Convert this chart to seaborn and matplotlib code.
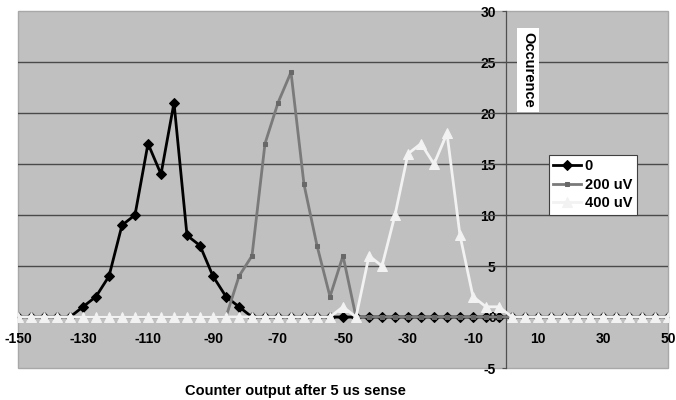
import matplotlib
matplotlib.use("Agg")
import matplotlib.pyplot as plt
import seaborn as sns
import pandas as pd
from matplotlib.patches import Rectangle

# ---- data ----
x_vals = [-150, -146, -142, -138, -134, -130, -126, -122, -118, -114,
          -110, -106, -102, -98, -94, -90, -86, -82, -78, -74,
          -70, -66, -62, -58, -54, -50, -46, -42, -38, -34,
          -30, -26, -22, -18, -14, -10, -6, -2, 2, 6,
          10, 14, 18, 22, 26, 30, 34, 38, 42, 46, 50]

s_0 = [0, 0, 0, 0, 0, 1, 2, 4, 9, 10,
       17, 14, 21, 8, 7, 4, 2, 1, 0, 0,
       0, 0, 0, 0, 0, 0, 0, 0, 0, 0,
       0, 0, 0, 0, 0, 0, 0, 0, 0, 0,
       0, 0, 0, 0, 0, 0, 0, 0, 0, 0, 0]

s_200 = [0, 0, 0, 0, 0, 0, 0, 0, 0, 0,
         0, 0, 0, 0, 0, 0, 0, 4, 6, 17,
         21, 24, 13, 7, 2, 6, 0, 0, 0, 0,
         0, 0, 0, 0, 0, 0, 0, 0, 0, 0,
         0, 0, 0, 0, 0, 0, 0, 0, 0, 0, 0]

s_400 = [0, 0, 0, 0, 0, 0, 0, 0, 0, 0,
         0, 0, 0, 0, 0, 0, 0, 0, 0, 0,
         0, 0, 0, 0, 0, 1, 0, 6, 5, 10,
         16, 17, 15, 18, 8, 2, 1, 1, 0, 0,
         0, 0, 0, 0, 0, 0, 0, 0, 0, 0, 0]

series_names = ["0", "200 uV", "400 uV"]
x_ticks = [-150, -130, -110, -90, -70, -50, -30, -10, 10, 30, 50]
y_ticks = [-5, 0, 5, 10, 15, 20, 25, 30]

df = pd.DataFrame({"x": x_vals, "0": s_0, "200 uV": s_200, "400 uV": s_400})

# ---- style ----
plt.rcParams["font.family"] = ["Liberation Sans", "DejaVu Sans"]
plt.rcParams["font.weight"] = "bold"
FS = 10.5

fig = plt.figure(figsize=(6.76, 4.0), dpi=100)
W, H = 676, 400
ax = fig.add_axes([18 / W, 1 - 368 / H, 650 / W, 357 / H])
ax.set_facecolor("#C0C0C0")

styles = {
    "0": dict(color="black", marker="D", markersize=5.5, markeredgecolor="black",
              markerfacecolor="black", linewidth=2.0, zorder=3),
    "200 uV": dict(color="#7A7A7A", marker="s", markersize=2.8, markeredgecolor="#686868",
                   markerfacecolor="#686868", linewidth=2.0, zorder=4),
    "400 uV": dict(color="#F2F2F2", marker="^", markersize=6.5, markeredgecolor="#F2F2F2",
                   markerfacecolor="#F2F2F2", linewidth=2.0, zorder=5),
}

for name in series_names:
    sns.lineplot(data=df, x="x", y=name, ax=ax, label=name, **styles[name])

ax.set_xlim(-150, 50)
ax.set_ylim(-5, 30)
ax.set_xticks(x_ticks)
ax.set_yticks(y_ticks)
ax.set_xticklabels([str(v) for v in x_ticks], fontsize=FS, fontweight="bold")
ax.set_yticklabels([str(v) for v in y_ticks], fontsize=FS, fontweight="bold")
ax.set_xlabel("")
ax.set_ylabel("")

# axes crossing at zero
ax.spines["left"].set_position(("data", 0))
ax.spines["bottom"].set_position(("data", 0))
ax.spines["left"].set_color("#505050")
ax.spines["left"].set_linewidth(0.9)
ax.spines["bottom"].set_color("#303030")
ax.spines["bottom"].set_linewidth(1.0)
ax.spines["top"].set_visible(False)
ax.spines["right"].set_visible(False)
ax.add_patch(Rectangle((0, 0), 1, 1, transform=ax.transAxes, fill=False,
                       edgecolor="#A8A8A8", linewidth=1.0, clip_on=False, zorder=0.5))

ax.tick_params(axis="y", direction="out", length=3, width=0.8, color="#505050", pad=4)
ax.tick_params(axis="x", direction="out", length=0, pad=11)

# horizontal gridlines
for yv in [5, 10, 15, 20, 25]:
    ax.axhline(yv, color="#4A4A4A", linewidth=1.0, zorder=1)
ax.set_axisbelow(True)

# y-axis title
ax.text(6.9, 24.2, "Occurence", rotation=270, ha="center", va="center",
        fontsize=FS, fontweight="bold", zorder=6,
        bbox=dict(boxstyle="square,pad=0.3", facecolor="white", edgecolor="none"))

# x-axis title
fig.text(295 / W, 1 - 391 / H, "Counter output after 5 us sense", ha="center", va="center",
         fontsize=FS, fontweight="bold")

leg = ax.legend(loc="upper left", bbox_to_anchor=((549 - 18) / 650, (368 - 155) / 357),
                frameon=True, fancybox=False, fontsize=FS, handlelength=1.9,
                borderpad=0.3, labelspacing=0.3, handletextpad=0.25, borderaxespad=0)
leg.get_frame().set_edgecolor("#404040")
leg.get_frame().set_linewidth(0.8)
leg.get_frame().set_facecolor("white")
leg.get_frame().set_alpha(1)
for t in leg.get_texts():
    t.set_fontweight("bold")
leg.set_zorder(7)

fig.savefig("out.png", dpi=100, facecolor="white")
